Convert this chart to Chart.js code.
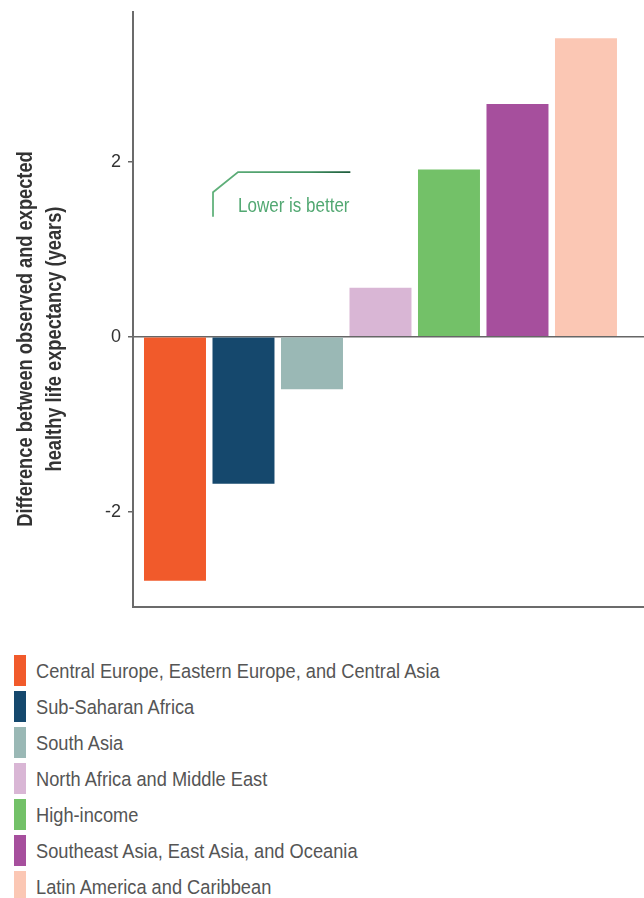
<!DOCTYPE html>
<html>
<head>
<meta charset="utf-8">
<script src="https://cdn.jsdelivr.net/npm/chart.js@4.4.1/dist/chart.umd.min.js"></script>
<style>
    body { margin: 0; background: #fff; }
    .wrap { position: relative; width: 644px; height: 620px; }
    .legend { margin-top: 35px; font-family: "Liberation Sans", Arial, sans-serif; }
    .legend div { height: 36px; display: flex; align-items: flex-start; }
    .legend span.box { display: inline-block; flex: none; width: 12px; height: 31px; margin-left: 14px; margin-right: 10px; }
    .legend span.txt { display: inline-block; font-size: 20.5px; color: #555; line-height: 31px; white-space: nowrap;
        transform: scaleX(0.89); transform-origin: left center; }
</style>
</head>
<body>
<div class="wrap"><canvas class="myChart"></canvas></div>
<div class="legend"></div>

<script>
const regions = [
    'Central Europe, Eastern Europe, and Central Asia',
    'Sub-Saharan Africa',
    'South Asia',
    'North Africa and Middle East',
    'High-income',
    'Southeast Asia, East Asia, and Oceania',
    'Latin America and Caribbean'
];
const diffYears = [-2.79, -1.68, -0.60, 0.56, 1.91, 2.66, 3.41];
const colors = ['#f15a2b', '#15486d', '#9ab8b5', '#d9b6d5', '#73c168', '#a64f9d', '#fbc7b4'];
const yTicks = [-2, 0, 2];
const yTitle = ['Difference between observed and expected', 'healthy life expectancy (years)'];
const noteText = 'Lower is better';
// annotation line in data units (x = bar index, y = years)
const notePath = [[0.555, 1.37], [0.555, 1.65], [0.92, 1.88], [2.56, 1.88]];
const notePos = [0.92, 1.49];

const FONT = '"Liberation Sans", Arial, sans-serif';

// legend
const legend = document.querySelector('.legend');
regions.forEach(function (r, i) {
    const row = document.createElement('div');
    row.innerHTML = '<span class="box" style="background:' + colors[i] + '"></span><span class="txt">' + r + '</span>';
    legend.appendChild(row);
});

const extras = {
    id: 'extras',
    afterDraw(chart) {
        const ctx = chart.ctx;
        const x = chart.scales.x, y = chart.scales.y;
        // y title (condensed)
        ctx.save();
        ctx.fillStyle = '#333';
        ctx.font = 'bold 22px ' + FONT;
        ctx.textAlign = 'center';
        ctx.textBaseline = 'middle';
        ctx.translate(26, 339);
        ctx.rotate(-Math.PI / 2);
        ctx.scale(0.83, 1);
        ctx.fillText(yTitle[0], 0, 0);
        ctx.fillText(yTitle[1], 0, 29);
        ctx.restore();

        // note
        ctx.save();
        const pts = notePath.map(p => [x.getPixelForValue(p[0]), y.getPixelForValue(p[1])]);
        const g = ctx.createLinearGradient(pts[0][0], 0, pts[3][0], 0);
        g.addColorStop(0, '#62b27c');
        g.addColorStop(0.7, '#3f9160');
        g.addColorStop(1, '#1d5a3b');
        ctx.strokeStyle = g;
        ctx.lineWidth = 1.8;
        ctx.beginPath();
        pts.forEach((p, i) => i ? ctx.lineTo(p[0], p[1]) : ctx.moveTo(p[0], p[1]));
        ctx.stroke();
        ctx.fillStyle = '#52a872';
        ctx.font = '20px ' + FONT;
        ctx.textBaseline = 'middle';
        ctx.translate(x.getPixelForValue(notePos[0]), y.getPixelForValue(notePos[1]));
        ctx.scale(0.85, 1);
        ctx.fillText(noteText, 0, 0);
        ctx.restore();
    }
};

const ctx = document.querySelector('.myChart').getContext('2d');
const myChart = new Chart(ctx, {
    type: 'bar',
    data: {
        datasets: [{
            label: 'Difference',
            data: diffYears.map((v, i) => ({ x: i, y: v })),
            backgroundColor: colors,
            borderWidth: 0,
            barPercentage: 1,
            categoryPercentage: 0.905
        }]
    },
    options: {
        responsive: true,
        maintainAspectRatio: false,
        animation: false,
        layout: { padding: { top: 12, bottom: 13, left: 0, right: 0 } },
        plugins: { legend: { display: false }, tooltip: { enabled: false } },
        scales: {
            x: {
                type: 'linear',
                offset: false,
                min: -0.613,
                max: 6.847,
                afterFit(scale) { scale.height = 0; },
                afterBuildTicks(scale) { scale.ticks = diffYears.map((v, i) => ({ value: i })); },
                ticks: { display: false },
                grid: { display: false },
                border: { display: true, color: '#6b6b6b', width: 2 }
            },
            y: {
                min: -3.09,
                max: 3.71,
                afterFit(scale) { scale.width = 133; scale.paddingTop = 0; scale.paddingBottom = 0; },
                afterBuildTicks(scale) { scale.ticks = yTicks.map(v => ({ value: v })); },
                ticks: {
                    color: '#333',
                    padding: 7,
                    font: { family: FONT, size: 18 }
                },
                grid: {
                    color: c => (c.tick && c.tick.value === 0) ? '#666' : 'transparent',
                    tickColor: '#666',
                    tickLength: 5,
                    lineWidth: 1.5
                },
                border: { display: true, color: '#6b6b6b', width: 2 }
            }
        }
    },
    plugins: [extras]
});
</script>
</body>
</html>
